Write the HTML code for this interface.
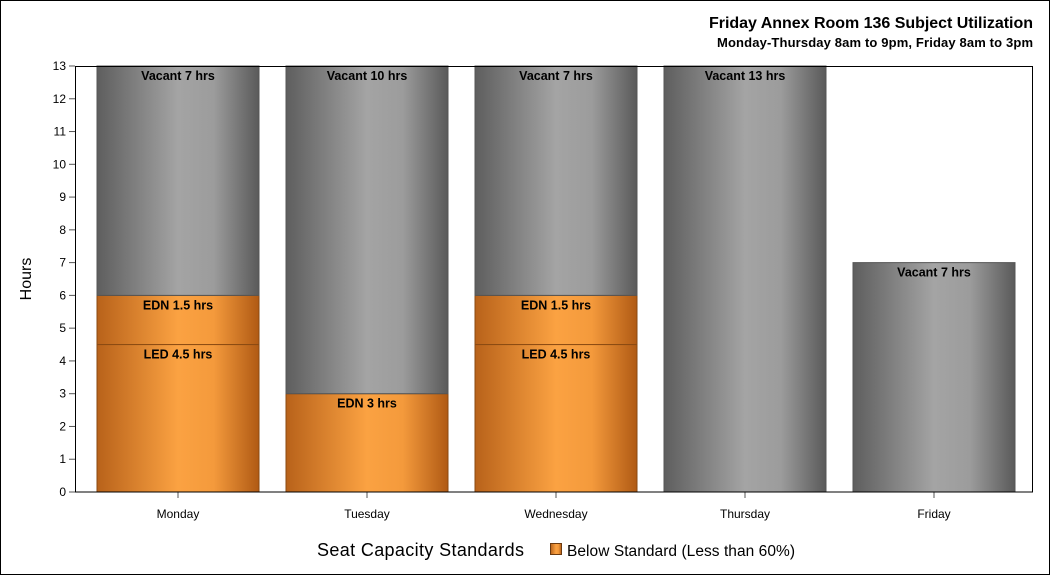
<!DOCTYPE html>
<html><head><meta charset="utf-8"><style>
body{margin:0;background:#fff;}
svg{display:block;font-family:"Liberation Sans",Arial,sans-serif;}
</style></head><body>
<svg id="c" width="1050" height="575">
<defs>
<linearGradient id="gGray" x1="0" x2="1" y1="0" y2="0">
<stop offset="0" stop-color="#5e5e5e"/><stop offset="0.5" stop-color="#a4a4a4"/><stop offset="0.72" stop-color="#9c9c9c"/><stop offset="1" stop-color="#5a5a5a"/></linearGradient>
<linearGradient id="gOr" x1="0" x2="1" y1="0" y2="0">
<stop offset="0" stop-color="#b8621a"/><stop offset="0.5" stop-color="#fba242"/><stop offset="0.72" stop-color="#f49a3c"/><stop offset="1" stop-color="#b05a14"/></linearGradient>
</defs>
<rect x="0.5" y="0.5" width="1049" height="574" fill="#fff" stroke="#000"/>
<text x="1033" y="28" text-anchor="end" font-size="16" font-weight="bold" textLength="324">Friday Annex Room 136 Subject Utilization</text>
<text x="1033" y="47" text-anchor="end" font-size="13" font-weight="bold" textLength="316">Monday-Thursday 8am to 9pm, Friday 8am to 3pm</text>
<text transform="translate(31,279) rotate(-90)" text-anchor="middle" font-size="16">Hours</text>
<g id="plot"></g>
<rect x="75.5" y="66.5" width="957" height="425.5" fill="none" stroke="#000"/>
<text x="317" y="556" font-size="18" textLength="207">Seat Capacity Standards</text>
<rect x="550.5" y="543.5" width="11" height="11" fill="url(#gOr)" stroke="#6b3a10"/>
<text x="567" y="556" font-size="15.5" textLength="228">Below Standard (Less than 60%)</text>
</svg>
<script>
const days=["Monday","Tuesday","Wednesday","Thursday","Friday"];
const led=[4.5,0,4.5,0,0];
const edn=[1.5,3,1.5,0,0];
const vacant=[7,10,7,13,7];
const yTicks=[0,1,2,3,4,5,6,7,8,9,10,11,12,13];
const NS="http://www.w3.org/2000/svg";
const g=document.getElementById('plot');
const yTop=66,yBot=492,yMax=13;
const y=v=>yBot-(v/yMax)*(yBot-yTop);
const band=189;
const bw=162;
const cx=i=>178+band*i;
function mk(t,a){const e=document.createElementNS(NS,t);for(const k in a)e.setAttribute(k,a[k]);g.appendChild(e);return e;}
yTicks.forEach(v=>{
 const l=mk('line',{x1:69,x2:75,y1:y(v),y2:y(v),stroke:'#555'});
 
 
 const t=mk('text',{x:66,y:y(v)+4,'text-anchor':'end','font-size':12});
 t.textContent=v;
 
 
});
days.forEach((d,i)=>{
 const left=cx(i)-bw/2;
 const segs=[[led[i],'LED','gOr','#8a4a12'],[edn[i],'EDN','gOr','#8a4a12'],[vacant[i],'Vacant','gGray','#555']];
 let base=0;
 segs.forEach(s=>{
  if(s[0]<=0)return;
  const top=base+s[0];
  const r=mk('rect',{x:left,y:y(top),width:bw,height:y(base)-y(top),fill:'url(#'+s[2]+')',stroke:s[3],'stroke-width':1});
  
  
  const t=mk('text',{x:cx(i),y:y(top)+14,'text-anchor':'middle','font-size':12.5,'font-weight':'bold'});
  t.textContent=s[1]+' '+s[0]+' hrs';
  
  
  base=top;
 });
 const tk=mk('line',{x1:cx(i),x2:cx(i),y1:yBot,y2:yBot+6,stroke:'#555'});
 
 
 const xl=mk('text',{x:cx(i),y:518,'text-anchor':'middle','font-size':12});
 xl.textContent=d;
 
 
});
</script>
</body></html>
